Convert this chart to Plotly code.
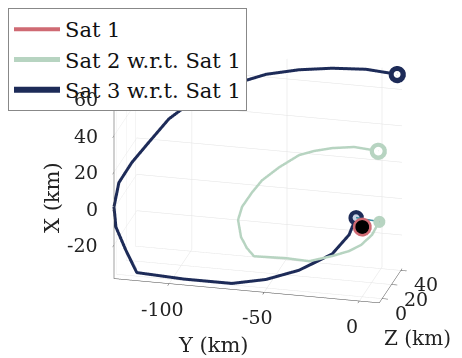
import plotly.graph_objects as go

# ---- data (km): Y = along-track, Z = cross-track, X = radial ----
sat3_y = [8.0, -8.0, -25.4, -42.1, -58.4, -75.1, -92.6, -105.3, -114.6, -122.3, -127.9,
          -129.0, -128.1, -123.1, -117.6, -93.1, -68.1, -50.4, -33.3, -16.0, -7.2, -3.7]
sat3_z = [42, 41, 39, 36, 32, 27, 21, 15, 10, 5, 0,
          -6, -5.5, -4.5, -3.5, -2.5, -1.5, -0.5, 0.5, 1, 1.5, 2]
sat3_x = [68.3, 69.9, 69.6, 68.3, 65.8, 60.5, 53.4, 43.4, 31.6, 21.7, 12.0,
          0.9, -10.3, -23.0, -35.1, -36.7, -37.1, -33.6, -27.3, -16.9, -5.7, 3.9]

sat2_y = [3.0, -9.4, -20.7, -30.0, -37.6, -47.6, -56.1, -60.9, -65.6, -67.2, -64.9,
          -61.3, -57.3, -40.0, -27.6, -15.5, -6.8, -0.8, 4.6, 8.0]
sat2_z = [22, 21, 20, 19, 18, 16, 14, 12, 10, 8, 5,
          3, 2, 0, -1, -1, 0, 1, 2.5, 4]
sat2_x = [33.4, 34.8, 33.5, 31.4, 28.8, 21.9, 14.7, 8.3, 0.8, -5.8, -13.8,
          -18.8, -22.5, -21.1, -21.2, -17.2, -14.0, -10.5, -5.0, 2.0]

sat1_y = [0.0]
sat1_z = [0.0]
sat1_x = [0.0]

y_ticks = [-100, -50, 0]
z_ticks = [0, 20, 40]
x_ticks = [-20, 0, 20, 40, 60]

y_range = [-129, 10.5]
z_range = [-6, 42.5]
x_range = [-38.5, 71]

C_SAT1 = '#cf6a73'
C_SAT2 = '#b7d4c1'
C_SAT3 = '#1d2b58'
C_LINK = '#3a8ea2'
FONT = 'DejaVu Serif'
TICK_SIZE = 19

fig = go.Figure()

# legend-bearing line traces
fig.add_trace(go.Scatter3d(x=sat1_y, y=sat1_z, z=sat1_x, mode='lines', name='Sat 1',
                           line=dict(color=C_SAT1, width=4)))
fig.add_trace(go.Scatter3d(x=sat2_y, y=sat2_z, z=sat2_x, mode='lines', name='Sat 2 w.r.t. Sat 1',
                           line=dict(color=C_SAT2, width=5)))
fig.add_trace(go.Scatter3d(x=sat3_y, y=sat3_z, z=sat3_x, mode='lines', name='Sat 3 w.r.t. Sat 1',
                           line=dict(color=C_SAT3, width=6)))

# link between final positions
fig.add_trace(go.Scatter3d(x=[sat3_y[-1], sat2_y[-1]], y=[sat3_z[-1], sat2_z[-1]],
                           z=[sat3_x[-1], sat2_x[-1]], mode='lines', showlegend=False,
                           line=dict(color=C_LINK, width=3)))

def dot(px, py, pz, size, color):
    fig.add_trace(go.Scatter3d(x=[px], y=[py], z=[pz], mode='markers', showlegend=False,
                               marker=dict(size=size, color=color, opacity=1,
                                           line=dict(color=color, width=0))))

# start / end markers (ring = filled disc + smaller centre disc)
dot(sat3_y[0], sat3_z[0], sat3_x[0], 10, C_SAT3)
dot(sat3_y[0], sat3_z[0], sat3_x[0], 4, 'white')
dot(sat3_y[-1], sat3_z[-1], sat3_x[-1], 9, C_SAT3)
dot(sat3_y[-1], sat3_z[-1], sat3_x[-1], 4, '#c9d3e6')
dot(sat2_y[0], sat2_z[0], sat2_x[0], 10, C_SAT2)
dot(sat2_y[0], sat2_z[0], sat2_x[0], 5, 'white')
dot(sat2_y[-1], sat2_z[-1], sat2_x[-1], 7, C_SAT2)
dot(sat1_y[0], sat1_z[0], sat1_x[0], 11, C_SAT1)
dot(sat1_y[0], sat1_z[0], sat1_x[0], 8, 'black')

def ax(rng, tv):
    return dict(range=rng, tickvals=tv, showticklabels=False,
                showgrid=True, gridcolor='#e2e2e2', gridwidth=1,
                showline=True, linecolor='#444', linewidth=1,
                ticks='outside', tickcolor='#444', ticklen=6,
                showbackground=False, zeroline=False, showspikes=False,
                title=dict(text=''))

# tick labels placed at the axis edges in data coordinates
tick_font = dict(family=FONT, size=TICK_SIZE, color='#222')
scene_ann = []
for v in y_ticks:
    scene_ann.append(dict(x=v, y=z_range[0], z=x_range[0], text=str(v), showarrow=False,
                          xanchor='center', yanchor='middle', xshift=-7, yshift=-25,
                          font=tick_font))
for v in z_ticks:
    scene_ann.append(dict(x=y_range[1], y=v, z=x_range[0], text=str(v), showarrow=False,
                          xanchor='left', yanchor='middle', xshift=11, yshift=-14,
                          font=tick_font))
for v in x_ticks:
    scene_ann.append(dict(x=y_range[0], y=z_range[0], z=v, text=str(v), showarrow=False,
                          xanchor='right', yanchor='middle', xshift=-14, yshift=0,
                          font=tick_font))

ZOOM = 1.18
ry = y_range[1] - y_range[0]
rz = z_range[1] - z_range[0]
rx = x_range[1] - x_range[0]

title_font = dict(family=FONT, size=21, color='#222')

fig.update_layout(
    width=462, height=358,
    margin=dict(l=0, r=0, t=0, b=0),
    paper_bgcolor='white',
    font=dict(family=FONT, color='#222'),
    hovermode=False,
    scene=dict(
        domain=dict(x=[0.082, 1.0], y=[0.0726, 1.0]),
        xaxis=ax(y_range, y_ticks),
        yaxis=ax(z_range, z_ticks),
        zaxis=ax(x_range, x_ticks),
        aspectmode='manual',
        aspectratio=dict(x=ZOOM * ry / 100, y=ZOOM * rz / 100, z=ZOOM * rx / 100),
        camera=dict(eye=dict(x=0.222 * 1.8, y=-0.898 * 1.8, z=0.369 * 1.8),
                    up=dict(x=0, y=0, z=1),
                    center=dict(x=0, y=0, z=0),
                    projection=dict(type='orthographic')),
        annotations=scene_ann,
    ),
    legend=dict(x=0.0, y=1.0, xanchor='left', yanchor='top',
                bgcolor='white', bordercolor='#888', borderwidth=1,
                font=dict(family=FONT, size=21, color='#111'),
                itemwidth=46, tracegroupgap=0),
    annotations=[
        dict(text='Y (km)', x=205 / 462, y=1 - 337 / 358, xref='paper', yref='paper',
             xanchor='center', yanchor='middle', showarrow=False, font=title_font),
        dict(text='Z (km)', x=445 / 462, y=1 - 330 / 358, xref='paper', yref='paper',
             xanchor='right', yanchor='middle', showarrow=False,
             font=dict(family=FONT, size=20, color='#222')),
        dict(text='X (km)', x=44 / 462, y=1 - 190 / 358, xref='paper', yref='paper',
             xanchor='center', yanchor='middle', showarrow=False, textangle=-90,
             font=title_font),
    ],
)

fig.write_html('out.html')
